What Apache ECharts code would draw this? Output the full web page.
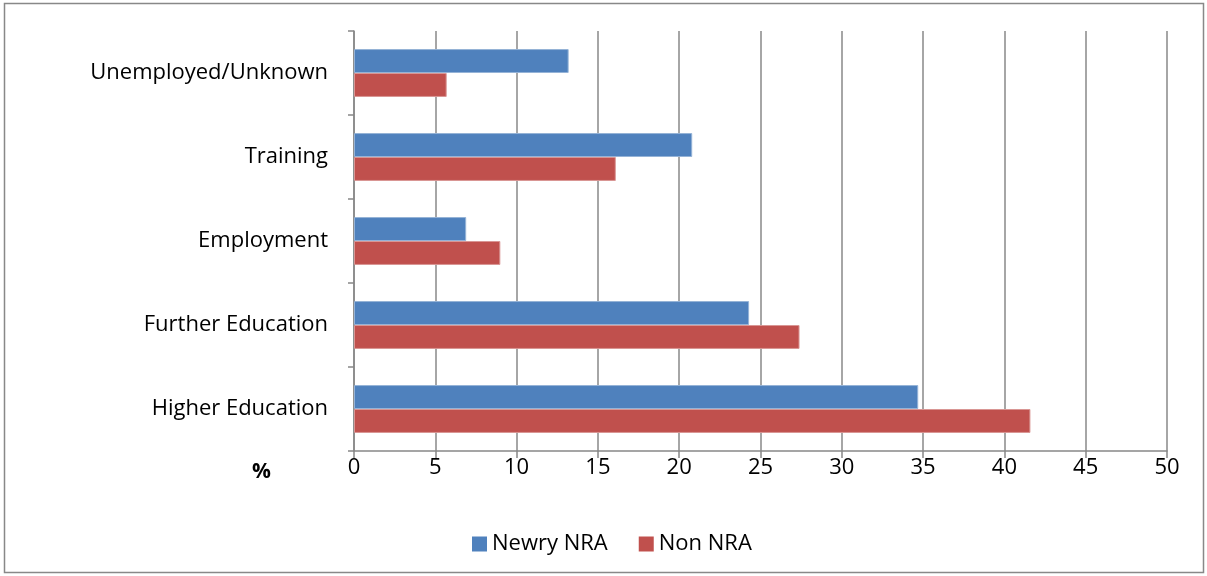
<!DOCTYPE html>
<html>
<head>
<meta charset="utf-8">
<script src="https://cdn.jsdelivr.net/npm/echarts@6/dist/echarts.min.js"></script>
<style>html,body{margin:0;padding:0;background:#fff}#c{width:1207px;height:576px}</style>
</head>
<body>
<div id="c"></div>
<script>
const categories = ['Higher Education', 'Further Education', 'Employment', 'Training', 'Unemployed/Unknown'];
const newryNRA = [34.7, 24.3, 6.9, 20.8, 13.2];
const nonNRA = [41.6, 27.4, 9.0, 16.1, 5.7];
const seriesNames = ['Newry NRA', 'Non NRA'];
const axisTitle = '%';

const FONT = '"Open Sans", sans-serif';
const chart = echarts.init(document.getElementById('c'));
chart.setOption({
  animation: false,
  textStyle: { fontFamily: FONT },
  graphic: [
    { type: 'rect', shape: { x: 4.5, y: 3.5, width: 1199, height: 569 }, style: { fill: 'none', stroke: '#888', lineWidth: 1.5 } },
    { type: 'text', left: 252, top: 462, style: { text: axisTitle, font: 'bold 21px ' + FONT, fill: '#000' } }
  ],
  legend: {
    data: seriesNames,
    left: 467, top: 528,
    itemWidth: 15, itemHeight: 15, itemGap: 31,
    icon: 'rect',
    itemStyle: { borderWidth: 0 },
    textStyle: { fontSize: 22, color: '#000', fontFamily: FONT, padding: [0, 0, 0, 0] }
  },
  grid: { left: 354, right: 40, top: 31, bottom: 125, containLabel: false },
  xAxis: {
    type: 'value', min: 0, max: 50, interval: 5,
    axisLine: { show: true, lineStyle: { color: '#888', width: 1.5 } },
    axisTick: { show: true, length: 7, lineStyle: { color: '#888', width: 1.5 } },
    axisLabel: { fontSize: 22, color: '#000', margin: 6, fontFamily: FONT },
    splitLine: { show: true, lineStyle: { color: '#888', width: 1.5 } }
  },
  yAxis: {
    type: 'category', data: categories,
    axisLine: { show: true, lineStyle: { color: '#888', width: 1.5 } },
    axisTick: { show: true, length: 6, alignWithLabel: false, lineStyle: { color: '#888', width: 1.5 } },
    axisLabel: { fontSize: 22, color: '#000', margin: 26, fontFamily: FONT },
    splitLine: { show: false }
  },
  series: [
    { name: seriesNames[0], type: 'bar', data: newryNRA, barGap: '0%', barCategoryGap: '43%',
      itemStyle: { color: '#4F81BD', borderColor: '#95B3D7', borderWidth: 1 } },
    { name: seriesNames[1], type: 'bar', data: nonNRA, barGap: '0%', barCategoryGap: '43%',
      itemStyle: { color: '#C0504D', borderColor: '#D99694', borderWidth: 1 } }
  ]
});
</script>
</body>
</html>
